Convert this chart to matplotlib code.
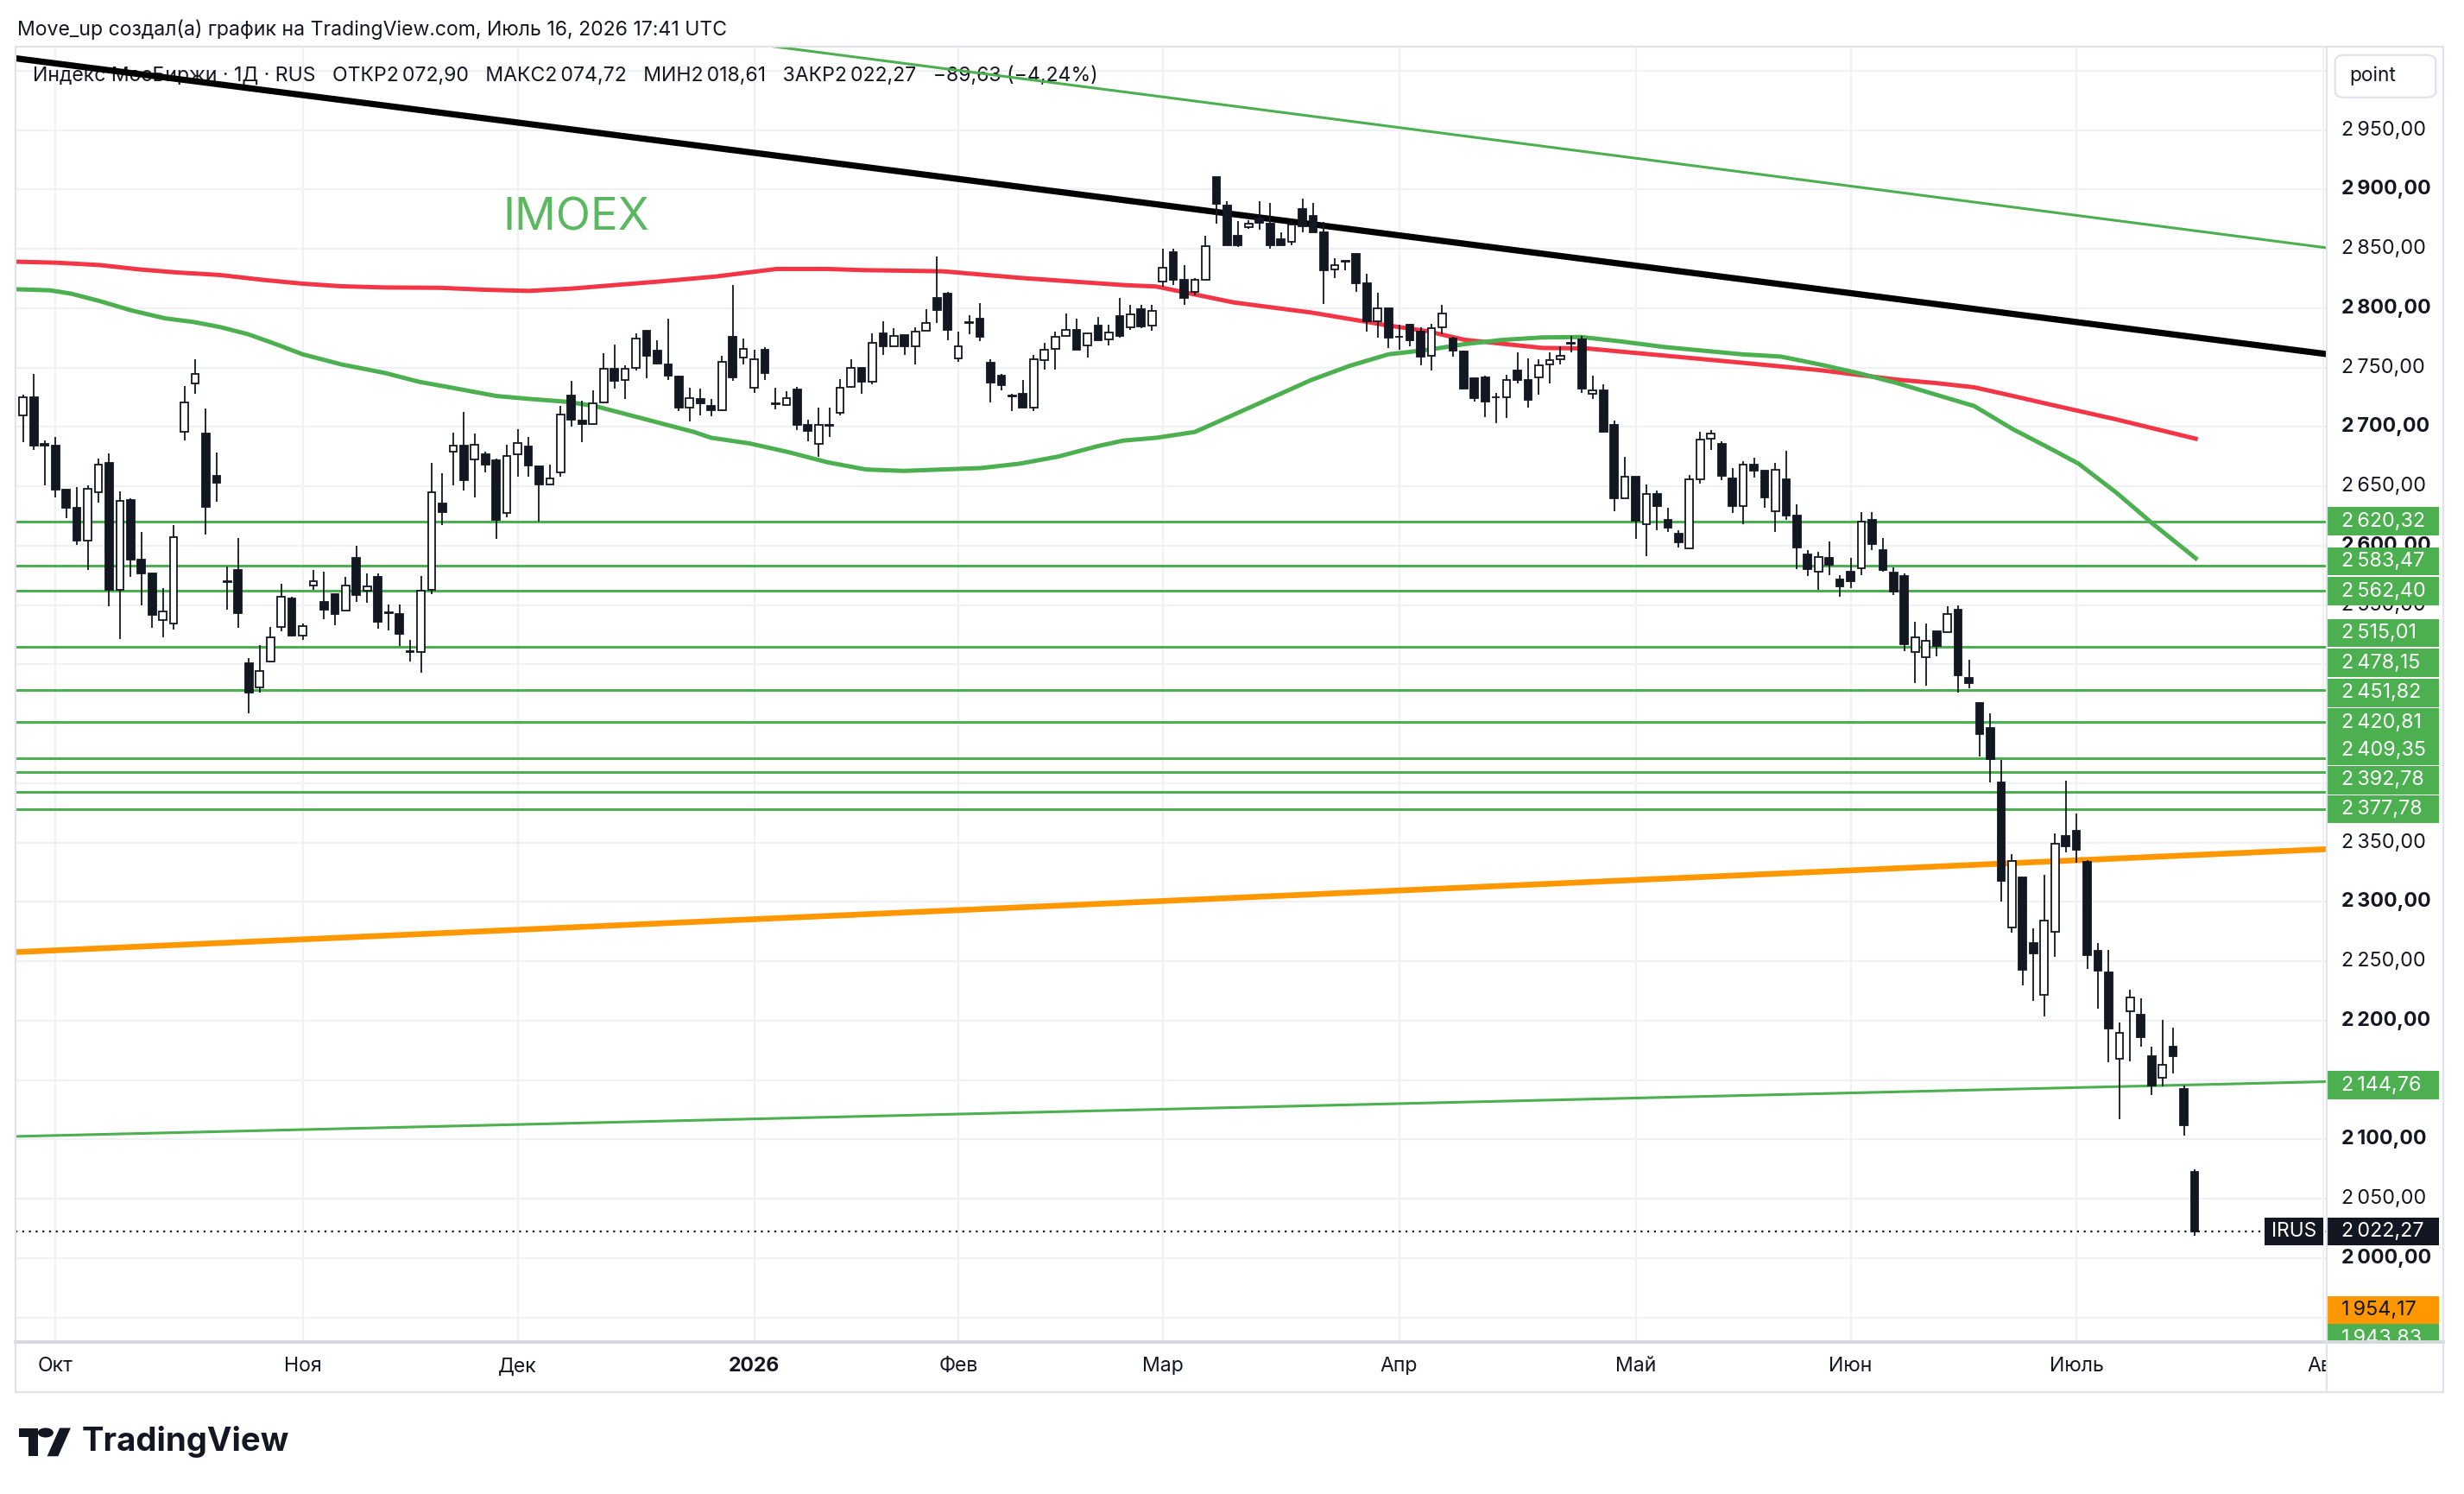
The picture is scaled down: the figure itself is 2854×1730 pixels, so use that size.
import matplotlib
matplotlib.use("Agg")
import matplotlib.pyplot as plt
from matplotlib.patches import Rectangle, FancyBboxPatch, Polygon, Circle
from matplotlib.lines import Line2D

plt.rcParams['font.family'] = ['Inter', 'DejaVu Sans']

# IMOEX daily candles, bar 0 = 26.09.2025 ... bar 202 = 16.07.2026
opens = [
    2709.4, 2725.4, 2685.5, 2684.1, 2647.0, 2631.7, 2604.1, 2645.3, 2669.6, 2562.8,
    2638.5, 2588.1, 2576.4, 2537.4, 2534.7, 2696.3, 2736.8, 2694.3, 2658.7, 2570.0,
    2579.8, 2500.7, 2480.6, 2502.7, 2531.3, 2555.5, 2524.5, 2566.2, 2552.4, 2559.0,
    2545.1, 2590.0, 2562.1, 2573.5, 2543.8, 2542.7, 2511.0, 2510.7, 2562.8, 2635.6,
    2679.3, 2684.6, 2673.0, 2676.9, 2672.0, 2627.6, 2677.1, 2683.4, 2667.1, 2651.9,
    2661.6, 2726.6, 2705.2, 2702.8, 2720.5, 2748.9, 2739.9, 2750.1, 2780.9, 2764.2,
    2753.0, 2742.8, 2716.1, 2723.4, 2717.4, 2714.2, 2775.6, 2758.6, 2733.1, 2764.7,
    2720.0, 2718.6, 2731.4, 2701.6, 2685.8, 2701.9, 2711.8, 2733.6, 2750.1, 2738.0,
    2778.7, 2768.3, 2777.3, 2768.3, 2781.2, 2808.8, 2812.0, 2757.9, 2788.0, 2790.9,
    2753.8, 2743.3, 2726.6, 2727.8, 2716.6, 2756.2, 2765.9, 2776.8, 2782.1, 2769.0,
    2785.3, 2773.9, 2793.5, 2783.6, 2798.9, 2785.5, 2822.4, 2847.4, 2823.8, 2814.1,
    2823.8, 2910.4, 2886.2, 2861.2, 2868.0, 2875.7, 2870.9, 2857.8, 2855.9, 2883.7,
    2877.7, 2863.6, 2832.8, 2839.6, 2845.7, 2820.7, 2789.2, 2799.6, 2776.0, 2786.0,
    2780.2, 2760.1, 2784.3, 2774.6, 2763.7, 2740.7, 2741.9, 2725.1, 2724.9, 2747.9,
    2739.9, 2741.9, 2752.8, 2756.9, 2770.7, 2773.9, 2727.8, 2731.2, 2701.6, 2639.7,
    2657.9, 2617.9, 2643.8, 2622.0, 2609.9, 2597.8, 2656.0, 2689.9, 2685.8, 2656.7,
    2633.2, 2668.1, 2663.3, 2629.3, 2656.0, 2625.2, 2592.4, 2578.3, 2590.0, 2571.8,
    2578.3, 2580.8, 2622.0, 2596.1, 2577.4, 2574.2, 2510.4, 2506.3, 2528.1, 2527.4,
    2546.3, 2488.6, 2467.4, 2446.3, 2400.8, 2278.3, 2320.9, 2265.0, 2221.8, 2275.1,
    2355.3, 2359.9, 2333.9, 2258.5, 2240.6, 2168.2, 2208.2, 2204.9, 2170.1, 2152.0,
    2178.0, 2142.2, 2072.90]
highs = [
    2727.0, 2744.8, 2689.0, 2691.9, 2648.2, 2649.2, 2650.6, 2673.2, 2677.8, 2645.8,
    2639.7, 2611.3, 2577.0, 2564.5, 2617.2, 2734.3, 2756.9, 2715.4, 2678.3, 2582.2,
    2606.3, 2505.6, 2516.0, 2531.3, 2567.7, 2556.7, 2534.2, 2579.8, 2578.3, 2559.0,
    2573.5, 2599.7, 2576.6, 2576.6, 2550.7, 2550.7, 2520.8, 2574.2, 2670.1, 2660.8,
    2695.0, 2712.5, 2694.8, 2679.3, 2673.7, 2685.1, 2698.0, 2691.9, 2667.1, 2668.1,
    2718.1, 2739.2, 2722.2, 2730.7, 2762.2, 2769.5, 2752.0, 2779.2, 2781.0, 2773.2,
    2791.4, 2743.0, 2733.1, 2732.6, 2723.4, 2760.3, 2819.3, 2774.4, 2764.7, 2767.1,
    2733.1, 2730.2, 2733.6, 2706.0, 2716.1, 2716.1, 2740.4, 2757.4, 2750.1, 2778.7,
    2789.4, 2782.9, 2777.3, 2784.1, 2799.1, 2843.5, 2813.7, 2780.4, 2794.3, 2804.0,
    2757.4, 2744.8, 2727.8, 2739.9, 2761.0, 2770.7, 2780.4, 2795.7, 2791.4, 2779.2,
    2792.6, 2786.0, 2809.0, 2802.5, 2802.5, 2803.0, 2849.8, 2849.8, 2836.5, 2825.5,
    2861.2, 2910.4, 2890.3, 2873.3, 2874.0, 2890.3, 2888.6, 2864.3, 2874.0, 2892.2,
    2888.6, 2872.8, 2841.8, 2840.1, 2846.6, 2828.7, 2813.4, 2800.1, 2786.0, 2786.7,
    2783.6, 2786.7, 2802.5, 2776.3, 2764.2, 2740.7, 2743.1, 2728.5, 2743.8, 2763.2,
    2757.6, 2756.9, 2762.5, 2768.1, 2777.0, 2777.0, 2743.1, 2736.0, 2705.2, 2674.9,
    2657.9, 2651.9, 2646.3, 2631.7, 2613.0, 2659.9, 2696.3, 2697.2, 2688.2, 2665.2,
    2671.3, 2674.4, 2663.3, 2669.6, 2679.8, 2634.9, 2596.1, 2594.8, 2603.3, 2575.4,
    2589.5, 2628.3, 2628.3, 2606.5, 2581.5, 2576.6, 2536.1, 2534.7, 2528.1, 2548.8,
    2550.0, 2503.9, 2468.5, 2459.0, 2419.3, 2340.6, 2320.9, 2277.4, 2322.9, 2357.6,
    2402.1, 2374.8, 2334.9, 2265.0, 2259.2, 2198.4, 2226.0, 2218.9, 2178.0, 2200.7,
    2194.2, 2145.4, 2074.72]
lows = [
    2687.0, 2681.0, 2651.1, 2640.9, 2623.5, 2600.9, 2579.8, 2636.1, 2548.8, 2521.6,
    2573.5, 2549.9, 2530.5, 2522.6, 2529.3, 2689.0, 2727.8, 2609.4, 2636.8, 2546.3,
    2530.5, 2458.5, 2476.0, 2501.5, 2528.1, 2523.3, 2520.8, 2562.8, 2537.8, 2533.0,
    2545.1, 2552.4, 2551.7, 2529.8, 2528.9, 2515.3, 2502.2, 2493.0, 2559.0, 2617.7,
    2651.1, 2646.3, 2640.5, 2661.6, 2605.8, 2623.9, 2658.0, 2658.0, 2620.3, 2651.9,
    2658.0, 2700.4, 2687.0, 2701.6, 2720.0, 2732.6, 2723.9, 2747.7, 2740.9, 2752.5,
    2739.9, 2713.2, 2704.5, 2710.1, 2708.9, 2713.7, 2739.2, 2752.5, 2728.8, 2739.9,
    2715.0, 2718.6, 2697.2, 2688.2, 2674.9, 2691.9, 2710.1, 2733.1, 2728.3, 2735.6,
    2761.0, 2767.6, 2761.0, 2753.0, 2781.2, 2787.7, 2773.2, 2755.0, 2778.0, 2772.0,
    2721.0, 2730.7, 2713.2, 2716.6, 2713.7, 2748.2, 2748.2, 2776.8, 2765.2, 2758.6,
    2773.2, 2769.0, 2775.3, 2781.9, 2783.1, 2780.7, 2818.3, 2819.5, 2803.0, 2811.0,
    2823.8, 2870.9, 2852.9, 2851.5, 2866.8, 2866.0, 2849.8, 2852.9, 2853.4, 2864.3,
    2863.6, 2803.7, 2825.5, 2831.6, 2814.1, 2780.2, 2775.3, 2766.6, 2764.7, 2768.1,
    2751.6, 2747.9, 2778.2, 2758.9, 2731.7, 2721.3, 2708.4, 2703.1, 2707.9, 2737.0,
    2716.4, 2727.3, 2737.0, 2752.8, 2762.5, 2728.5, 2723.7, 2695.5, 2629.3, 2639.7,
    2605.8, 2591.2, 2613.0, 2611.3, 2598.5, 2597.8, 2652.6, 2681.0, 2655.5, 2627.6,
    2617.9, 2657.4, 2631.7, 2611.8, 2621.5, 2580.3, 2574.2, 2562.8, 2575.4, 2557.2,
    2564.5, 2575.4, 2596.1, 2578.3, 2558.5, 2511.1, 2484.5, 2482.1, 2507.0, 2526.9,
    2476.5, 2479.6, 2422.6, 2400.8, 2300.1, 2274.1, 2230.0, 2216.9, 2203.3, 2253.6,
    2341.4, 2333.2, 2243.9, 2210.1, 2164.9, 2117.2, 2165.9, 2177.9, 2137.6, 2144.8,
    2155.2, 2103.2, 2018.61]
closes = [
    2725.4, 2684.6, 2684.5, 2647.0, 2631.7, 2604.1, 2648.2, 2668.1, 2562.8, 2638.0,
    2588.1, 2576.6, 2541.5, 2544.9, 2607.5, 2721.0, 2744.5, 2632.4, 2653.1, 2569.2,
    2543.4, 2476.4, 2494.4, 2522.8, 2557.2, 2524.0, 2532.5, 2570.1, 2546.3, 2542.2,
    2566.2, 2558.4, 2565.7, 2535.9, 2543.0, 2525.7, 2510.4, 2562.1, 2645.3, 2628.3,
    2684.6, 2655.5, 2685.1, 2668.1, 2622.0, 2675.4, 2686.5, 2667.6, 2651.9, 2656.7,
    2710.8, 2706.0, 2702.8, 2719.8, 2748.9, 2739.2, 2748.9, 2774.4, 2759.8, 2753.3,
    2743.3, 2716.1, 2724.6, 2719.8, 2714.2, 2754.5, 2741.6, 2765.9, 2756.9, 2745.3,
    2719.3, 2724.6, 2701.6, 2696.7, 2702.1, 2701.3, 2733.1, 2750.1, 2738.0, 2770.7,
    2767.6, 2776.8, 2767.6, 2780.4, 2787.7, 2798.4, 2782.1, 2768.3, 2787.4, 2775.6,
    2737.5, 2735.1, 2726.0, 2716.6, 2757.4, 2765.2, 2776.3, 2782.1, 2765.2, 2779.2,
    2773.2, 2779.7, 2776.5, 2795.2, 2785.0, 2797.7, 2834.4, 2824.3, 2808.6, 2824.1,
    2852.2, 2887.9, 2852.9, 2852.9, 2870.9, 2871.6, 2852.9, 2852.9, 2870.4, 2869.2,
    2863.6, 2832.1, 2836.5, 2839.2, 2821.4, 2789.2, 2799.6, 2775.3, 2775.6, 2773.4,
    2759.3, 2783.1, 2795.7, 2764.2, 2732.2, 2724.4, 2721.3, 2724.7, 2739.5, 2739.9,
    2722.5, 2751.6, 2756.4, 2760.1, 2770.3, 2732.2, 2730.9, 2696.0, 2639.7, 2657.9,
    2621.0, 2643.8, 2633.2, 2615.5, 2602.6, 2656.0, 2689.5, 2694.3, 2659.1, 2633.2,
    2668.1, 2663.3, 2640.5, 2664.0, 2625.2, 2598.5, 2580.3, 2590.5, 2583.9, 2565.7,
    2570.1, 2620.3, 2601.6, 2579.8, 2561.4, 2517.2, 2522.5, 2520.1, 2515.3, 2542.7,
    2490.5, 2484.5, 2441.1, 2420.3, 2317.6, 2334.2, 2242.9, 2256.9, 2284.5, 2348.8,
    2346.9, 2343.6, 2255.3, 2242.3, 2193.5, 2189.6, 2219.8, 2186.4, 2145.4, 2162.7,
    2170.1, 2111.7, 2022.27]

# moving averages (bar index, value)
red_ma_x = [-0.69, 3.0, 7.1, 10.7, 14.2, 18.3, 22.4, 26.0, 29.6, 33.7, 38.8, 42.9,
            47.0, 51.1, 54.2, 59.3, 64.4, 67.5, 70.1, 74.7, 78.2, 85.6, 92.7, 102.4,
            105.4, 112.6, 119.8, 126.9, 130.6, 134.1, 141.3, 145.5, 152.8, 160.0,
            167.1, 174.3, 177.9, 181.5, 185.1, 188.6, 194.6, 202.1]
red_ma_y = [2839.2, 2838.4, 2836.4, 2832.8, 2830.2, 2828.0, 2823.8, 2820.7, 2818.5,
            2817.5, 2817.2, 2815.6, 2814.6, 2816.6, 2818.9, 2822.6, 2826.7, 2830.2,
            2833.1, 2833.1, 2832.1, 2831.1, 2825.6, 2819.5, 2818.3, 2804.9, 2796.4,
            2785.6, 2780.7, 2773.4, 2766.6, 2766.1, 2760.0, 2754.0, 2747.9, 2739.9,
            2737.0, 2733.4, 2726.1, 2718.8, 2706.6, 2690.1]
green_ma_x = [-0.69, 2.5, 4.5, 7.1, 10.1, 13.2, 15.8, 18.3, 20.9, 23.5, 26.0, 29.6,
              33.7, 36.8, 40.4, 44.0, 47.0, 50.6, 53.2, 56.8, 62.4, 64.0, 67.6, 71.2,
              74.8, 78.4, 81.9, 85.5, 89.1, 92.7, 96.3, 99.9, 102.3, 105.4, 109.0,
              112.6, 116.2, 119.8, 123.4, 127.0, 130.6, 134.1, 137.7, 141.3, 144.9,
              148.5, 152.7, 159.9, 163.5, 167.1, 170.7, 174.3, 177.9, 181.5, 185.1,
              188.7, 191.2, 194.7, 198.1, 202.1]
green_ma_y = [2816.0, 2815.1, 2812.2, 2806.1, 2798.1, 2791.5, 2788.5, 2784.2, 2778.2,
              2769.8, 2761.2, 2752.7, 2745.4, 2738.1, 2732.2, 2726.1, 2723.7, 2721.2,
              2717.6, 2709.1, 2695.8, 2690.9, 2686.1, 2678.8, 2670.3, 2664.2, 2663.0,
              2664.2, 2665.4, 2669.1, 2675.1, 2683.7, 2688.5, 2690.9, 2695.8, 2710.3,
              2724.9, 2739.5, 2751.5, 2761.2, 2764.9, 2769.8, 2773.4, 2775.4, 2775.8,
              2772.2, 2767.3, 2761.2, 2759.3, 2752.7, 2745.4, 2737.0, 2727.3, 2717.6,
              2698.1, 2681.2, 2669.1, 2644.8, 2618.5, 2589.4]

# horizontal levels drawn on the chart
levels = [2620.32, 2583.47, 2562.40, 2515.01, 2478.15, 2451.82, 2420.81, 2409.35,
          2392.78, 2377.78]

# sloped trend lines: two anchor points (bar, price) each
black_line = [(-0.69, 3010.5), (214.19, 2761.5)]
green_top_line = [(69.2, 3021.2), (214.19, 2851.0)]
orange_line = [(-0.69, 2257.7), (214.19, 2344.4)]
green_low_line = [(-0.69, 2102.5), (214.19, 2148.6)]

last_close = 2022.27

# price scale tags: value, colour
tag_values = [2620.32, 2583.47, 2562.40, 2515.01, 2478.15, 2451.82, 2420.81, 2409.35,
              2392.78, 2377.78, 2144.76, 2022.27, 1954.17, 1943.83]
tag_colors = ['g'] * 11 + ['k', 'o', 'g']
# where TradingView stacked the tags (price units)
tag_pos = [2620.5, 2586.8, 2561.6, 2526.5, 2501.3, 2476.2, 2451.0, 2427.2, 2402.6,
           2378.1, 2145.7, 2022.5, 1956.3, 1932.5]

month_labels = ['Окт', 'Ноя', 'Дек', '2026', 'Фев', 'Мар', 'Апр', 'Май', 'Июн', 'Июль', 'Авг']
month_bars = [3, 26, 46, 68, 87, 106, 128, 150, 170, 191, 214]

GREEN = '#4caf50'
RED = '#f23645'
ORANGE = '#ff9800'
DARK = '#131722'
GRID = '#f0f1f4'
BORDER = '#e0e3eb'

SW, SH = 1568.0, 950.0   # layout in screenshot pixels


def fx(x):
    return x / SW


def fy(y):
    return 1 - y / SH


fig = plt.figure(figsize=(14.27, 8.65), dpi=200)
fig.patch.set_facecolor('white')

XL = (-0.69, 214.19)
YL = (1929.8, 3021.2)

ax = fig.add_axes([fx(10), fy(853), fx(1480) - fx(10), fy(29) - fy(853)])
ax.set_xlim(*XL)
ax.set_ylim(*YL)
ax.axis('off')

for p in range(1950, 3001, 50):
    ax.axhline(p, color=GRID, lw=0.8, zorder=0)
for b in month_bars:
    ax.axvline(b, color=GRID, lw=0.8, zorder=0)

# moving averages
ax.plot(red_ma_x, red_ma_y, color=RED, lw=1.8, zorder=2, solid_joinstyle='round')
ax.plot(green_ma_x, green_ma_y, color=GREEN, lw=1.8, zorder=2, solid_joinstyle='round')

# drawings
for lv in levels:
    ax.axhline(lv, color=GREEN, lw=1.1, zorder=3)
ax.axline(black_line[0], black_line[1], color='black', lw=2.6, zorder=3)
ax.axline(green_top_line[0], green_top_line[1], color=GREEN, lw=1.1, zorder=3)
ax.axline(orange_line[0], orange_line[1], color=ORANGE, lw=2.4, zorder=3)
ax.axline(green_low_line[0], green_low_line[1], color=GREEN, lw=1.1, zorder=3)
ax.axhline(last_close, color=DARK, lw=0.8, ls=(0, (1, 2.5)), zorder=3)

# candles
for i in range(len(closes)):
    o, h, l, c = opens[i], highs[i], lows[i], closes[i]
    ax.vlines(i, l, h, color=DARK, lw=0.65, zorder=4)
    up = c > o
    ax.add_patch(Rectangle((i - 0.35, min(o, c)), 0.7, max(abs(c - o), 0.5),
                           facecolor='white' if up else DARK, edgecolor=DARK,
                           lw=0.65, zorder=5))

# legend texts (under the drawings)
ax.text(fx(21), fy(48),
        'Индекс МосБиржи · 1Д · RUS   ОТКР2\u2009072,90   МАКС2\u2009074,72   '
        'МИН2\u2009018,61   ЗАКР2\u2009022,27   −89,63 (−4,24%)',
        transform=fig.transFigure, fontsize=8.3, color=DARK, va='center', zorder=1)
ax.text(fx(320), fy(139), 'IMOEX', transform=fig.transFigure, fontsize=19,
        color='#5cb860', va='center', ha='left', zorder=1)

# price scale
axp = fig.add_axes([fx(1480), fy(853), fx(1555) - fx(1480), fy(29) - fy(853)])
axp.set_xlim(0, 1)
axp.set_ylim(*YL)
axp.axis('off')
for p in range(1950, 3000, 50):
    lab = f'{p // 1000}\u2009{p % 1000:03d},00'
    axp.text(0.13, p, lab, fontsize=8.4, color=DARK, va='center', ha='left',
             fontweight='bold' if p % 100 == 0 else 'normal', zorder=1)

tag_h = 18.0 / 0.755
cmap = {'g': GREEN, 'k': DARK, 'o': ORANGE}
for v, col, pos in zip(tag_values, tag_colors, tag_pos):
    axp.add_patch(Rectangle((0, pos - tag_h / 2), 0.96, tag_h, facecolor=cmap[col],
                            edgecolor='none', zorder=3, clip_on=True))
    s = f'{int(v) // 1000}\u2009{int(v) % 1000:03d},{round((v - int(v)) * 100):02d}'
    axp.text(0.13, pos, s, fontsize=8.4, color=DARK if col == 'o' else 'white',
             va='center', ha='left', zorder=4, clip_on=True)
# symbol tag for last price
axp.add_patch(Rectangle((-0.52, tag_pos[11] - tag_h / 2), 0.5, tag_h, facecolor=DARK,
                        edgecolor='none', zorder=3, clip_on=False))
axp.text(-0.27, tag_pos[11], 'IRUS', fontsize=8.2, color='white', va='center',
         ha='center', zorder=4, clip_on=False)

# "point" button
fig.add_artist(FancyBboxPatch((fx(1486), fy(62)), fx(1550) - fx(1486), fy(35) - fy(62),
                              boxstyle='round,pad=0,rounding_size=0.004',
                              facecolor='white', edgecolor=BORDER, lw=0.8,
                              transform=fig.transFigure))
fig.text(fx(1510), fy(48), 'point', fontsize=8.2, color=DARK, ha='center', va='center')

# time scale
axt = fig.add_axes([fx(10), fy(885), fx(1480) - fx(10), fy(853) - fy(885)])
axt.set_xlim(*XL)
axt.set_ylim(0, 1)
axt.axis('off')
for b, lab in zip(month_bars, month_labels):
    axt.text(b, 0.5, lab, fontsize=8.3, color=DARK, ha='center', va='center',
             fontweight='bold' if lab == '2026' else 'normal', clip_on=True)


# frame lines
def hline(y, x0, x1, color=BORDER, lw=0.8):
    fig.add_artist(Line2D([fx(x0), fx(x1)], [fy(y), fy(y)], color=color, lw=lw,
                          transform=fig.transFigure))


def vline(x, y0, y1, color=BORDER, lw=0.8):
    fig.add_artist(Line2D([fx(x), fx(x)], [fy(y0), fy(y1)], color=color, lw=lw,
                          transform=fig.transFigure))


hline(29.5, 10, 1555)
hline(885, 10, 1555)
hline(853.5, 10, 1555, color='#d6d8de', lw=1.4)
vline(1480.5, 29.5, 885)
vline(10, 29.5, 885)
vline(1555, 29.5, 885)

# header
fig.text(fx(11), fy(19), 'Move_up создал(а) график на TradingView.com, Июль 16, 2026 17:41 UTC',
         fontsize=8.3, color=DARK, va='center', ha='left')

# TradingView logo
fig.add_artist(Polygon([(fx(12), fy(908)), (fx(24), fy(908)), (fx(24), fy(926)),
                        (fx(18), fy(926)), (fx(18), fy(914)), (fx(12), fy(914))],
                       closed=True, facecolor=DARK, edgecolor='none',
                       transform=fig.transFigure))
fig.add_artist(Circle((fx(29), fy(911)), 0.0032, facecolor=DARK, edgecolor='none',
                      transform=fig.transFigure))
fig.add_artist(Polygon([(fx(38), fy(908)), (fx(45), fy(908)), (fx(37), fy(926)),
                        (fx(30), fy(926))], closed=True, facecolor=DARK,
                       edgecolor='none', transform=fig.transFigure))
fig.text(fx(52), fy(917), 'TradingView', fontsize=13.8, fontweight='bold', color=DARK,
         ha='left', va='center')

fig.savefig('out.png', dpi=200, facecolor='white')
